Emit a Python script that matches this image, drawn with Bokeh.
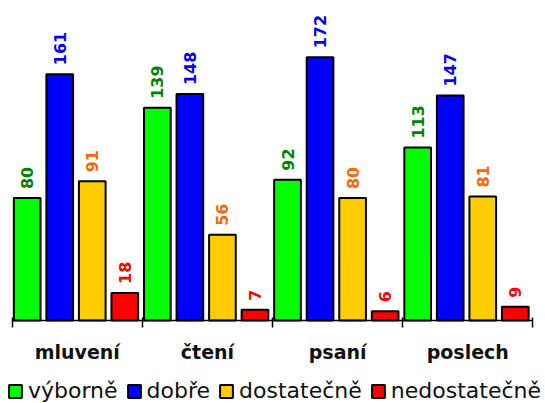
import math
from bokeh.plotting import figure
from bokeh.models import ColumnDataSource, Range1d, FixedTicker, LinearAxis
from bokeh.core.properties import value
from bokeh.embed import file_html
from bokeh.resources import INLINE

categories = ["mluvení", "čtení", "psaní", "poslech"]
series_names = ["výborně", "dobře", "dostatečně", "nedostatečně"]
vyborne = [80, 139, 92, 113]
dobre = [161, 148, 172, 147]
dostatecne = [91, 56, 80, 81]
nedostatecne = [18, 7, 6, 9]

series_values = [vyborne, dobre, dostatecne, nedostatecne]
fill_colors = ["#00FF00", "#0000FF", "#FFCC00", "#FF0000"]
label_colors = ["#008000", "#0000FF", "#FF6600", "#FF0000"]

# frame spans the whole canvas; ranges chosen so that the category axis
# sits at y=320 px and spans x=12..532 px
p = figure(width=545, height=403, output_backend="svg", toolbar_location=None,
           x_range=Range1d(-0.09, 4.097), y_range=Range1d(-54.25, 200),
           x_axis_location=None, y_axis_location=None,
           min_border_left=0, min_border_right=0, min_border_top=14,
           min_border_bottom=0)
p.outline_line_color = None
p.xgrid.visible = False
p.ygrid.visible = False
p.background_fill_color = "white"
p.border_fill_color = "white"

FONT = "DejaVu Sans"
bar_w = 0.205
for j, (name, vals) in enumerate(zip(series_names, series_values)):
    xs = [i + 0.115 + 0.25 * j for i in range(len(categories))]
    src = ColumnDataSource(dict(x=xs, top=vals, lab=[str(v) for v in vals]))
    p.vbar(x="x", top="top", bottom=0, width=bar_w, source=src,
           fill_color=fill_colors[j], line_color="#000000", line_width=2,
           legend_label=name)
    p.text(x="x", y="top", text="lab", source=src, angle=math.pi / 2,
           text_align="left", text_baseline="middle", y_offset=-9,
           text_color=label_colors[j], text_font=value(FONT),
           text_font_style="bold", text_font_size="16px")

ax = LinearAxis(fixed_location=0, bounds=(0, len(categories)))
ax.ticker = FixedTicker(ticks=[i + 0.5 for i in range(len(categories))],
                        minor_ticks=list(range(len(categories) + 1)))
ax.major_label_overrides = {i + 0.5: c for i, c in enumerate(categories)}
ax.major_tick_in = 0
ax.major_tick_out = 0
ax.minor_tick_in = 3
ax.minor_tick_out = 7
ax.minor_tick_line_width = 1.5
ax.minor_tick_line_color = "#000000"
ax.axis_line_color = "#000000"
ax.axis_line_width = 1.5
ax.major_label_standoff = 14
ax.major_label_text_font = FONT
ax.major_label_text_font_style = "bold"
ax.major_label_text_font_size = "19px"
ax.major_label_text_color = "#111111"
p.add_layout(ax, "below")

lg = p.legend[0]
lg.orientation = "horizontal"
lg.location = (7, 0)
lg.border_line_color = None
lg.background_fill_alpha = 0
lg.padding = 0
lg.margin = 0
lg.spacing = 8
lg.label_standoff = 5
lg.glyph_width = 16
lg.glyph_height = 16
lg.label_text_font = FONT
lg.label_text_font_size = "22px"
lg.label_text_color = "#111111"

open("out.html", "w").write(file_html(p, INLINE))
